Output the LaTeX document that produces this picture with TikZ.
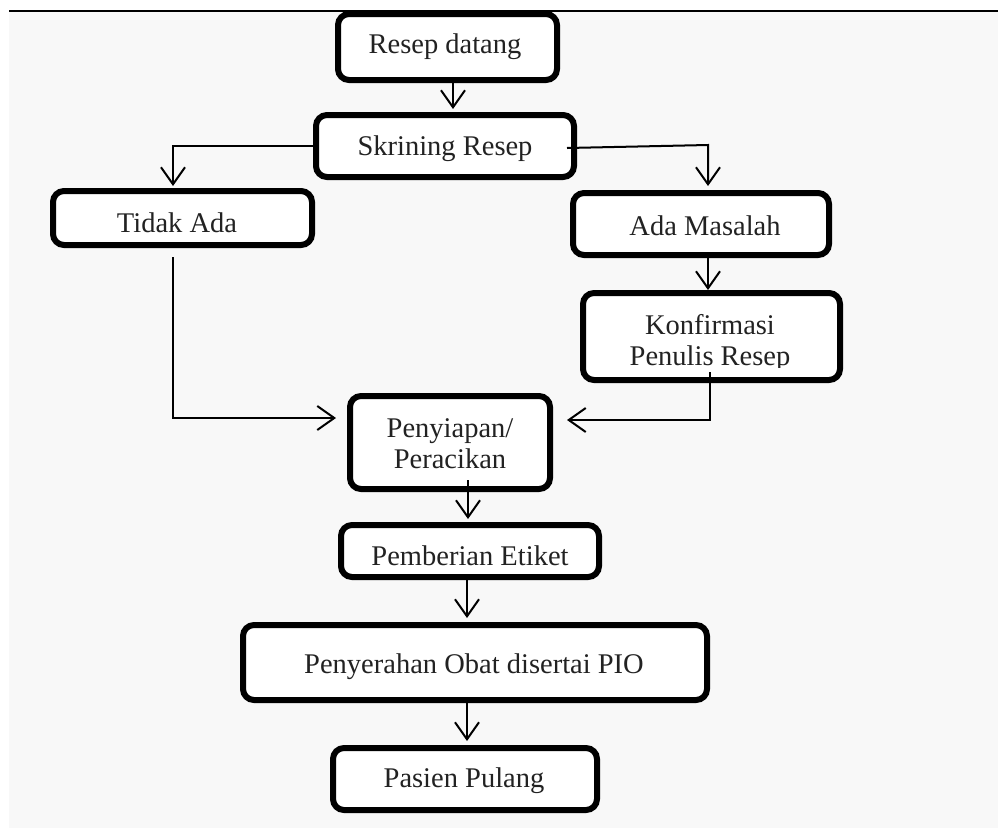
\documentclass[tikz,border=0pt]{standalone}
\usepackage{fontspec}
\setmainfont{Liberation Serif}
\usetikzlibrary{arrows.meta}
\definecolor{bggray}{RGB}{248,248,248}
\definecolor{txt}{RGB}{34,34,34}
\tikzset{
  box/.style={draw=black, line width=6pt, rounded corners=11pt, fill=white,
    inner sep=0pt},
  lbl/.style={inner sep=0pt, anchor=base, text=txt, align=center,
    font=\fontsize{28.5}{31}\selectfont},
  lbltwo/.style={lbl, anchor=center},
  conn/.style={line width=2pt, -{Straight Barb[length=17pt,width=24pt]}}
}
\begin{document}
\begin{tikzpicture}[x=1pt,y=-1pt]
\useasboundingbox (0,0) rectangle (998,828);
\fill[white] (0,0) rectangle (998,828);
\fill[bggray] (9,11) rectangle (998,828);
% boxes
\node[box, minimum width=219pt, minimum height=66pt] (res) at (447.5,47) {};
\node[box, minimum width=258pt, minimum height=62pt] (skr) at (445,146) {};
\node[box, minimum width=259pt, minimum height=54pt] (tid) at (182.5,218) {};
\node[box, minimum width=256pt, minimum height=62pt] (ada) at (701,224) {};
\node[box, minimum width=257pt, minimum height=87pt] (kon) at (711.5,336.5) {};
\node[box, minimum width=200pt, minimum height=93pt] (pen) at (450,442.5) {};
\node[box, minimum width=258pt, minimum height=52pt] (pem) at (470,551) {};
\node[box, minimum width=464pt, minimum height=75pt] (pny) at (475,662.5) {};
\node[box, minimum width=264pt, minimum height=62pt] (pas) at (465,779) {};
% texts
\node[lbl] (tres) at (445,53) {Resep datang};
\node[lbl] (tskr) at (445,155) {Skrining Resep};
\node[lbl] (ttid) at (177,232) {Tidak Ada};
\node[lbl] (tada) at (705,235) {Ada Masalah};
\begin{scope}
\clip (585,290) rectangle (840,367);
\node[lbltwo] (tkon) at (710,343) {Konfirmasi\\Penulis Resep};
\end{scope}
\node[lbltwo] (tpen) at (450,444) {Penyiapan/\\Peracikan};
\node[lbl] (tpem) at (470,565) {Pemberian Etiket};
\node[lbl] (tpny) at (474,673) {Penyerahan Obat disertai PIO};
\node[lbl] (tpas) at (464,787) {Pasien Pulang};
% top rule
\draw[line width=2.5pt] (9,11) -- (998,11);
% connectors
\coordinate (tidtop) at (173,186);
\coordinate (adatop) at (708,186);
\coordinate (tidout) at (173,257);
\coordinate (konout) at (710,372);
\coordinate (penin1) at (336,418);
\coordinate (penin2) at (567,420);
\draw[conn] (res.south -| 453,0) -- (453,109);
\draw[conn] (skr.west) -- (173,146) -- (tidtop);
\draw[conn] (567,148) -- (708,145) -- (adatop);
\draw[conn] (ada.south -| 708,0) -- (kon.north -| 708,0);
\draw[conn] (tidout) -- (173,418) -- (penin1);
\draw[conn] (konout) -- (710,420) -- (penin2);
\draw[conn] (468,480) -- (468,519);
\draw[conn] (pem.south -| 467,0) -- (467,618);
\draw[conn] (pny.south -| 467,0) -- (467,741);
\end{tikzpicture}
\end{document}
